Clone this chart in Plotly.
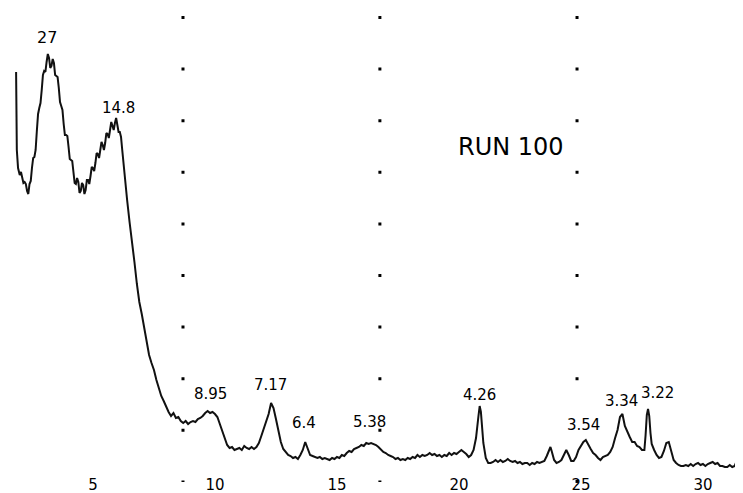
import plotly.graph_objects as go

# ---- data (2-theta in degrees, intensity in arbitrary units) ----
two_theta = [
    1.85, 1.88, 1.93,
    2.0, 2.05, 2.1, 2.15, 2.2, 2.25, 2.3, 2.35, 2.4, 2.45, 2.5, 2.55, 2.6,
    2.65, 2.7, 2.75, 2.8, 2.85, 2.9, 2.95,
    3.0, 3.05, 3.1, 3.15, 3.2, 3.25, 3.3, 3.35, 3.4, 3.45,
    3.5, 3.55, 3.6, 3.65, 3.7, 3.75, 3.8, 3.85, 3.9, 3.95,
    4.0, 4.05, 4.1, 4.15, 4.2, 4.25, 4.3, 4.35, 4.4, 4.45,
    4.5, 4.55, 4.6, 4.65, 4.7, 4.75, 4.8, 4.85, 4.9, 4.95,
    5.0, 5.05, 5.1, 5.15, 5.2, 5.25, 5.3, 5.35, 5.4, 5.45,
    5.5, 5.55, 5.6, 5.65, 5.7, 5.75, 5.8, 5.85, 5.9, 5.95,
    6.0, 6.05, 6.1, 6.15, 6.2, 6.3, 6.4, 6.5, 6.6, 6.7, 6.8, 6.9,
    7.0, 7.1, 7.2, 7.3, 7.4, 7.5, 7.6, 7.7, 7.8, 7.9,
    8.0, 8.1, 8.2, 8.3, 8.4, 8.5, 8.6, 8.7, 8.8, 8.9,
    9.0, 9.1, 9.2, 9.3, 9.4, 9.5, 9.6, 9.7, 9.8, 9.9,
    10.0, 10.1, 10.2, 10.3, 10.4, 10.5, 10.6, 10.7, 10.8, 10.9,
    11.0, 11.1, 11.2, 11.3, 11.4, 11.5, 11.6, 11.7, 11.8, 11.9,
    12.0, 12.1, 12.2, 12.3, 12.4, 12.5, 12.6, 12.7, 12.8, 12.9,
    13.0, 13.1, 13.2, 13.3, 13.4, 13.5, 13.6, 13.7, 13.8, 13.9,
    14.0, 14.1, 14.2, 14.3, 14.4, 14.5, 14.6, 14.7, 14.8, 14.9,
    15.0, 15.1, 15.2, 15.3, 15.4, 15.5, 15.6, 15.7, 15.8, 15.9,
    16.0, 16.1, 16.2, 16.3, 16.4, 16.5, 16.6, 16.7, 16.8, 16.9,
    17.0, 17.1, 17.2, 17.3, 17.4, 17.5, 17.6, 17.7, 17.8, 17.9,
    18.0, 18.1, 18.2, 18.3, 18.4, 18.5, 18.6, 18.7, 18.8, 18.9,
    19.0, 19.1, 19.2, 19.3, 19.4, 19.5, 19.6, 19.7, 19.8, 19.9,
    20.0, 20.1, 20.2, 20.3, 20.4, 20.5, 20.6, 20.7, 20.8, 20.85, 20.9,
    21.0, 21.1, 21.2, 21.3, 21.4, 21.5, 21.6, 21.7, 21.8, 21.9,
    22.0, 22.1, 22.2, 22.3, 22.4, 22.5, 22.6, 22.7, 22.8, 22.9,
    23.0, 23.1, 23.2, 23.3, 23.4, 23.5, 23.6, 23.7, 23.75, 23.8, 23.9,
    24.0, 24.1, 24.2, 24.3, 24.4, 24.5, 24.6, 24.7, 24.8, 24.9,
    25.0, 25.1, 25.2, 25.3, 25.4, 25.5, 25.6, 25.7, 25.8, 25.9,
    26.0, 26.1, 26.2, 26.3, 26.4, 26.5, 26.6, 26.7, 26.8, 26.9,
    27.0, 27.1, 27.2, 27.3, 27.4, 27.5, 27.6, 27.65, 27.7, 27.75, 27.8, 27.85, 27.9,
    28.0, 28.1, 28.2, 28.3, 28.4, 28.5, 28.6, 28.7, 28.8, 28.9,
    29.0, 29.1, 29.2, 29.3, 29.4, 29.5, 29.6, 29.7, 29.8, 29.9,
    30.0, 30.1, 30.2, 30.3, 30.4, 30.5, 30.6, 30.7, 30.8, 30.9,
    31.0, 31.1, 31.2, 31.3, 31.4, 31.5, 31.55, 31.6,
]

intensity = [
    408, 330, 312,
    305, 308, 302, 297, 298, 296, 289, 286, 296, 299, 312, 322, 323,
    330, 349, 366, 372, 377, 390, 405,
    409, 408, 418, 426, 422, 412, 414, 421, 417, 405,
    404, 403, 392, 378, 374, 370, 356, 345, 345, 344,
    333, 321, 320, 319, 308, 297, 296, 302, 298, 287,
    289, 297, 295, 286, 290, 300, 300, 296, 304, 313,
    312, 309, 317, 327, 326, 322, 330, 338, 335, 330,
    337, 347, 346, 342, 350, 358, 354, 350, 357, 362,
    355, 348, 348, 343, 330, 303, 280, 258, 240, 218, 196, 178,
    166, 151, 136, 125, 117, 110, 100, 91, 84, 79,
    73, 68, 64, 67, 62, 63, 59, 57, 59, 56,
    58, 59, 58, 61, 62, 64, 67, 69, 67, 68,
    66, 63, 56, 49, 41, 35, 32, 33, 30, 31,
    32, 30, 34, 32, 31, 33, 31, 33, 37, 44,
    51, 59, 66, 77, 72, 61, 48, 38, 31, 28,
    25, 24, 22, 23, 21, 25, 30, 38, 31, 25,
    24, 23, 22, 23, 21, 22, 21, 20, 22, 21,
    23, 22, 25, 24, 27, 29, 28, 31, 32, 33,
    35, 34, 37, 36, 37, 36, 35, 33, 30, 28,
    27, 25, 24, 23, 21, 22, 20, 21, 20, 22,
    21, 23, 22, 25, 23, 25, 24, 25, 27, 25,
    26, 24, 25, 23, 25, 24, 27, 25, 27, 26,
    28, 30, 28, 26, 23, 25, 30, 42, 64, 74, 68,
    37, 22, 17, 17, 18, 20, 18, 20, 18, 19,
    21, 19, 18, 19, 17, 18, 16, 17, 17, 15,
    17, 16, 18, 17, 18, 19, 24, 31, 33, 29, 20,
    17, 18, 20, 25, 30, 25, 19, 19, 23, 30,
    34, 38, 40, 35, 31, 27, 25, 22, 20, 23,
    24, 25, 28, 33, 42, 50, 63, 66, 54, 48,
    43, 38, 38, 34, 33, 30, 30, 45, 65, 71, 64, 47, 36,
    30, 25, 22, 23, 29, 37, 38, 28, 20, 17,
    15, 14, 14, 15, 14, 16, 14, 16, 17, 15,
    16, 14, 16, 17, 18, 16, 17, 14, 14, 13,
    13, 15, 13, 14, 20, 35, 50, 85,
]

tick_values = [5, 10, 15, 20, 25, 30]
tick_labels = ["5", "10", "15", "20", "25", "30"]

# d-spacing labels written over the peaks, with the spot each one sits at
peak_labels = ["27", "14.8", "8.95", "7.17", "6.4", "5.38", "4.26", "3.54", "3.34", "3.22"]
label_two_theta = [3.12, 6.03, 9.80, 12.26, 13.65, 16.35, 20.86, 25.12, 26.68, 28.12]
label_height = [443, 372, 86, 95, 57, 58, 85, 55, 79, 87]
label_size = [16, 15, 15, 15, 15, 15, 15, 15, 15, 15]

run_title = "RUN 100"

# chart-paper time marks (dotted vertical rows) and the paper-fraction span of each dotted run
paper_marks = [8.69, 16.76, 24.84, 24.84]
mark_top = [1.0, 1.0, 1.0, -0.013]
mark_bottom = [-0.0175, -0.0175, 0.194, -0.0197]

FONT = "DejaVu Sans, Liberation Sans, Arial, sans-serif"

fig = go.Figure()

for xm, yt, yb in zip(paper_marks, mark_top, mark_bottom):
    fig.add_shape(
        type="line", xref="x", yref="paper",
        x0=xm, x1=xm, y0=yt, y1=yb,
        line=dict(color="black", width=3, dash="3px,48.6px"),
        layer="below",
    )

fig.add_trace(go.Scatter(
    x=two_theta, y=intensity, mode="lines",
    line=dict(color="#111111", width=2),
    hoverinfo="skip", showlegend=False,
))

for txt, xl, yl, sz in zip(peak_labels, label_two_theta, label_height, label_size):
    fig.add_annotation(
        x=xl, y=yl, xref="x", yref="y", text=txt, showarrow=False,
        font=dict(family=FONT, size=sz, color="black"),
        xanchor="center", yanchor="middle",
    )

fig.add_annotation(
    x=22.13, y=333, xref="x", yref="y", text=run_title, showarrow=False,
    font=dict(family=FONT, size=24, color="black"),
    xanchor="center", yanchor="middle",
)

fig.update_layout(
    width=743, height=493,
    margin=dict(l=0, r=0, t=8, b=27),
    paper_bgcolor="white", plot_bgcolor="white",
    showlegend=False,
    xaxis=dict(
        range=[1.518, 31.97], tickvals=tick_values, ticktext=tick_labels,
        ticks="", showline=False, showgrid=False, zeroline=False,
        tickfont=dict(family=FONT, size=15, color="black"),
    ),
    yaxis=dict(
        range=[6, 464], visible=False, showgrid=False, zeroline=False,
    ),
)

fig.write_html("out.html")
